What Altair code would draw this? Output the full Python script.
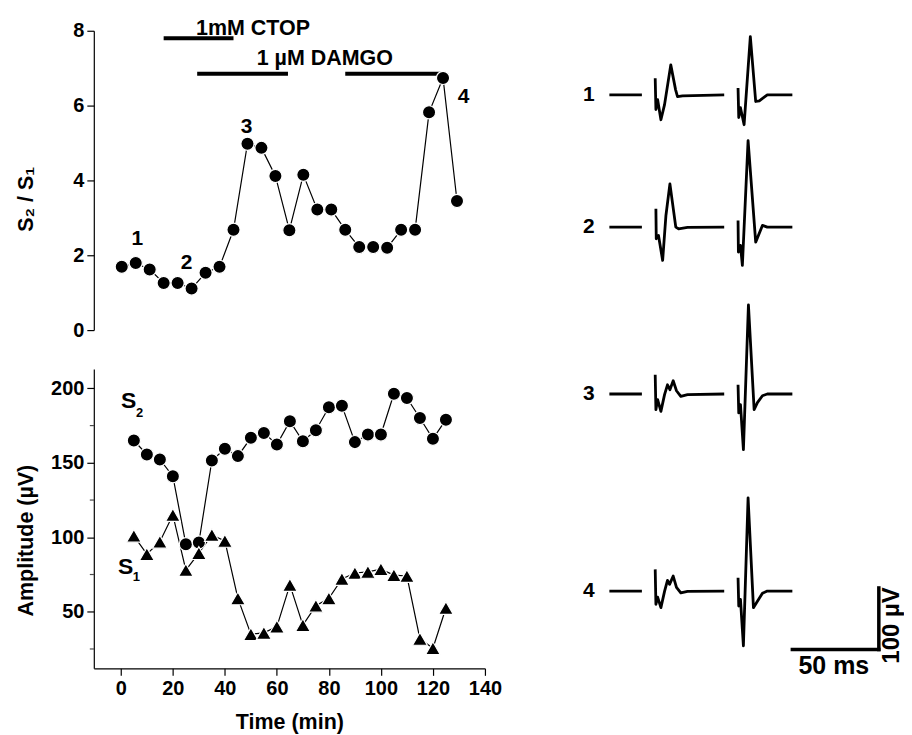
import altair as alt
import pandas as pd

FONT = "Liberation Sans"

# ---------------- data ----------------
time_min = [5, 10, 15, 20, 25, 30, 35, 40, 45, 50, 55, 60, 65, 70, 75, 80, 85, 90,
            95, 100, 105, 110, 115, 120, 125]
ratio_s2_s1 = [1.69, 1.79, 1.62, 1.26, 1.26, 1.11, 1.53, 1.69, 2.68, 4.98, 4.87, 4.12,
               2.67, 4.15, 3.22, 3.22, 2.68, 2.22, 2.22, 2.20, 2.68, 2.68, 5.82, 6.74, 3.45]
s2_amp = [165, 155.6, 152.3, 141, 95.4, 96.5, 151.6, 159.4, 154.5, 166.8, 170.1, 162.3,
          177.9, 164.5, 171.9, 187.3, 188.4, 163.9, 169, 169, 196.4, 193.5, 180.1, 166.1, 179]
s1_amp = [101, 88.7, 97, 115, 78, 89.4, 101.6, 97.6, 59, 35, 35.8, 40, 68, 41, 54, 59,
          72, 76, 76.8, 78.6, 74.6, 74, 31.8, 25.5, 52.5]

drug_start = [20, 32, 85]
drug_end = [45, 64.5, 119.5]
drug_level = [7.8, 6.85, 6.85]
drug_names = ["1mM CTOP", "1 µM DAMGO"]
drug_name_t = [52, 77.7]
drug_name_y = [8.06, 7.25]

ratio_labels = ["1", "2", "3", "4"]
ratio_label_t = [10.6, 28.2, 49.7, 127.4]
ratio_label_y = [2.43, 1.78, 5.44, 6.22]

amp_major = [50, 100, 150, 200]
amp_minor = [25, 75, 125, 175]
time_ticks = [0, 20, 40, 60, 80, 100, 120, 140]
ratio_ticks = [0, 2, 4, 6, 8]

# traces: (trace, segment, t in ms, value in µV)
trace_ids = ["1", "2", "3", "4"]
trace_offsets_uV = [-104, -319, -590, -910]
seg_pre_t = [0, 18.8]
seg_pre_v = [0, 0]
tr1_b_t = [26.5, 26.9, 27.9, 29.8, 31.9, 35.5, 38.3, 39.4, 42.3, 66.4]
tr1_b_v = [27, -24, -8, -40.5, -16, 48.6, 8, -3, -1.6, 0]
tr1_c_t = [74.4, 74.8, 75.8, 77.9, 81.5, 84.6, 86.7, 91.3, 105.8]
tr1_c_v = [10.9, -37, -21, -48.6, 94.5, -10.9, -9.7, 0, 0]
tr2_b_t = [26.9, 27.1, 28.4, 30.8, 32.7, 35.0, 38.4, 40.0, 45.2, 66.4]
tr2_b_v = [29.8, -18.8, -13.5, -54, 19, 70.3, 0, -2.6, -0.5, 0]
tr2_c_t = [74.4, 74.6, 75.8, 76.9, 80.2, 84.6, 88.5, 91.3, 105.8]
tr2_c_v = [10.9, -40.5, -29.7, -62, 140.5, -24.3, 2.8, 0, 0]
tr3_b_t = [26.5, 26.9, 27.9, 29.8, 31.9, 33.6, 35.0, 36.9, 38.8, 41.3, 45.2, 66.4]
tr3_b_v = [31.3, -25.4, -9, -28.2, -1, 15, 7, 21.6, 5.3, -3.9, -1.1, 0]
tr3_c_t = [74.4, 74.8, 75.8, 77.5, 80.4, 83.7, 85.6, 88.5, 91.3, 105.8]
tr3_c_v = [15, -30.8, -17.3, -90.3, 144.7, -25.4, -14, -2.8, 0, 0]
tr4_b_t = [26.5, 26.9, 27.9, 29.8, 31.9, 33.6, 34.8, 36.9, 38.8, 41.3, 45.2, 66.4]
tr4_b_v = [35.2, -21.6, -10, -27, -0.5, 17.3, 10.8, 24.3, 6, -2.9, -0.5, 0]
tr4_c_t = [74.4, 74.8, 75.8, 77.5, 80.2, 83.3, 85.6, 88.5, 91.3, 105.8]
tr4_c_v = [21.7, -24.3, -13.5, -89, 151.4, -27, -16.7, -3.7, 0, 0]

scale_bar_start_ms = 105.8
scale_bar_ms = 50
scale_bar_uV = 100
scale_bar_base_uV = -1005
trace_label_t = -11.9

# ---------------- tables ----------------
ratio_df = pd.DataFrame({"t": time_min, "r": ratio_s2_s1})
drug_df = pd.DataFrame({"t": drug_start, "e": drug_end, "r": drug_level})
drug_txt = pd.DataFrame({"name": drug_names, "t": drug_name_t, "r": drug_name_y})
rlab_df = pd.DataFrame({"lab": ratio_labels, "t": ratio_label_t, "r": ratio_label_y})
amp_df = pd.DataFrame({"t": time_min, "s2": s2_amp, "s1": s1_amp})
minor_df = pd.DataFrame({"a": amp_minor})

rows = []
segs = {
    "1": [(tr1_b_t, tr1_b_v), (tr1_c_t, tr1_c_v)],
    "2": [(tr2_b_t, tr2_b_v), (tr2_c_t, tr2_c_v)],
    "3": [(tr3_b_t, tr3_b_v), (tr3_c_t, tr3_c_v)],
    "4": [(tr4_b_t, tr4_b_v), (tr4_c_t, tr4_c_v)],
}
for tid, off in zip(trace_ids, trace_offsets_uV):
    allsegs = [(seg_pre_t, seg_pre_v)] + segs[tid]
    for si, (ts, vs) in enumerate(allsegs):
        for t, v in zip(ts, vs):
            rows.append({"trace": tid, "seg": f"{tid}-{si}", "t": t, "v": v + off})
trace_df = pd.DataFrame(rows)
tlab_df = pd.DataFrame({"lab": trace_ids, "t": [trace_label_t] * 4, "v": trace_offsets_uV})
sb_df = pd.DataFrame({
    "t": [scale_bar_start_ms, scale_bar_start_ms + scale_bar_ms],
    "t2": [scale_bar_start_ms + scale_bar_ms, scale_bar_start_ms + scale_bar_ms],
    "v": [scale_bar_base_uV, scale_bar_base_uV],
    "v2": [scale_bar_base_uV, scale_bar_base_uV + scale_bar_uV],
})
sb_txt1 = pd.DataFrame({"lab": [f"{scale_bar_ms} ms"],
                        "t": [scale_bar_start_ms + scale_bar_ms / 2 - 1],
                        "v": [scale_bar_base_uV - 27]})
sb_txt2 = pd.DataFrame({"lab": [f"{scale_bar_uV} µV"],
                        "t": [scale_bar_start_ms + scale_bar_ms + 7.5],
                        "v": [scale_bar_base_uV + scale_bar_uV / 2 - 11]})

# ---------------- top panel ----------------
W, H = 392, 300
xt = alt.X("t:Q", scale=alt.Scale(domain=[-5, 135], nice=False, zero=False), axis=None)
yr_axis = alt.Axis(values=ratio_ticks, title="S₂ / S₁", tickSize=7, labelPadding=3,
                   labelFlush=False,
                   titleX=-67, titleY=168.5, titleBaseline="middle", titleAlign="center",
                   titleAngle=270)
yr = alt.Y("r:Q", scale=alt.Scale(domain=[0, 8], nice=False), axis=yr_axis)

top_line = alt.Chart(ratio_df).mark_line(color="black", strokeWidth=1.2).encode(x=xt, y=yr)
top_pts = alt.Chart(ratio_df).mark_point(filled=True, shape="circle", size=175, color="black",
                                         stroke="white", strokeWidth=1.2, opacity=1).encode(x=xt, y=yr)
top_bars = alt.Chart(drug_df).mark_rule(color="black", strokeWidth=4).encode(
    x=xt, x2="e:Q", y=yr)
top_drug_txt = alt.Chart(drug_txt).mark_text(font=FONT, fontWeight="bold", fontSize=21.5,
                                              align="center", baseline="middle").encode(
    x=xt, y=yr, text="name:N")
top_lab = alt.Chart(rlab_df).mark_text(font=FONT, fontWeight="bold", fontSize=21,
                                        align="center", baseline="middle").encode(
    x=xt, y=yr, text="lab:N")
top = alt.layer(top_line, top_bars, top_pts, top_drug_txt, top_lab).properties(width=W, height=H)

# ---------------- bottom panel ----------------
xb = alt.X("t:Q", scale=alt.Scale(domain=[-10.4, 140], nice=False, zero=False),
           axis=alt.Axis(values=time_ticks, title="Time (min)", tickSize=7, labelPadding=3,
                         labelFlush=False, titlePadding=13))
ya_axis = alt.Axis(values=amp_major, title="Amplitude (µV)", tickSize=7, labelPadding=3,
                   labelFlush=False,
                   titleX=-67, titleY=171.5, titleBaseline="middle", titleAlign="center",
                   titleAngle=270)
ya_scale = alt.Scale(domain=[12, 213], nice=False, zero=False)


def ya(field):
    return alt.Y(f"{field}:Q", scale=ya_scale, axis=ya_axis)


s2_line = alt.Chart(amp_df).mark_line(color="black", strokeWidth=1.2).encode(x=xb, y=ya("s2"))
s1_line = alt.Chart(amp_df).mark_line(color="black", strokeWidth=1.2).encode(x=xb, y=ya("s1"))
s2_pts = alt.Chart(amp_df).mark_point(filled=True, shape="circle", size=175, color="black",
                                      stroke="white", strokeWidth=1.2, opacity=1).encode(
    x=xb, y=ya("s2"))
s1_pts = alt.Chart(amp_df).mark_point(filled=True, shape="triangle-up", size=220, color="black",
                                      stroke="white", strokeWidth=1.2, opacity=1).encode(
    x=xb, y=ya("s1"))
minor = alt.Chart(minor_df).mark_tick(color="black", thickness=1.2, size=4, orient="horizontal",
                                      xOffset=-2).encode(
    x=alt.value(0), y=ya("a"))

s_lab_df = pd.DataFrame({"lab": ["S", "S"], "t": [3.0, 1.8], "a": [191.3, 80.3]})
sub_lab_df = pd.DataFrame({"lab": ["2", "1"], "t": [7.2, 6.0], "a": [183.5, 73]})
s_lab = alt.Chart(s_lab_df).mark_text(font=FONT, fontWeight="bold", fontSize=23,
                                       baseline="middle").encode(x=xb, y=ya("a"), text="lab:N")
sub_lab = alt.Chart(sub_lab_df).mark_text(font=FONT, fontWeight="bold", fontSize=13,
                                           baseline="middle").encode(x=xb, y=ya("a"), text="lab:N")

bottom = alt.layer(s2_line, s1_line, minor, s2_pts, s1_pts, s_lab, sub_lab).properties(
    width=W, height=H)

left = alt.vconcat(top, bottom, spacing=29)

# ---------------- traces panel ----------------
xs = alt.X("t:Q", scale=alt.Scale(domain=[-18.3, 169.2], nice=False, zero=False), axis=None)
ys = alt.Y("v:Q", scale=alt.Scale(domain=[-1102, 0], nice=False, zero=False), axis=None)
tr_lines = alt.Chart(trace_df).mark_line(color="black", strokeWidth=2.8,
                                         strokeJoin="round").encode(
    x=xs, y=ys, detail="seg:N")
tr_labels = alt.Chart(tlab_df).mark_text(font=FONT, fontWeight="bold", fontSize=21,
                                          baseline="middle").encode(x=xs, y=ys, text="lab:N")
sb = alt.Chart(sb_df).mark_rule(color="black", strokeWidth=3.5, strokeCap="square").encode(
    x=xs, x2="t2:Q", y=ys, y2="v2:Q")
sb_t1 = alt.Chart(sb_txt1).mark_text(
    font=FONT, fontWeight="bold", fontSize=25, baseline="middle").encode(
    x=xs, y=ys, text="lab:N")
sb_t2 = alt.Chart(sb_txt2).mark_text(
    font=FONT, fontWeight="bold", fontSize=24, baseline="middle", angle=270).encode(
    x=xs, y=ys, text="lab:N")
traces = alt.layer(tr_lines, sb, tr_labels, sb_t1, sb_t2).properties(width=325, height=680)

chart = alt.hconcat(left, traces, spacing=76).configure_view(stroke=None).configure_axis(
    grid=False, domainColor="black", tickColor="black", domainWidth=1.2, tickWidth=1.2,
    labelFont=FONT, labelFontWeight="bold", labelFontSize=20, labelColor="black",
    titleFont=FONT, titleFontWeight="bold", titleFontSize=21.5, titleColor="black"
).properties(padding={"left": 8, "top": 8, "right": 0, "bottom": 0}, background="white")

chart.save("out.html", embed_options={"renderer": "svg", "actions": False})
